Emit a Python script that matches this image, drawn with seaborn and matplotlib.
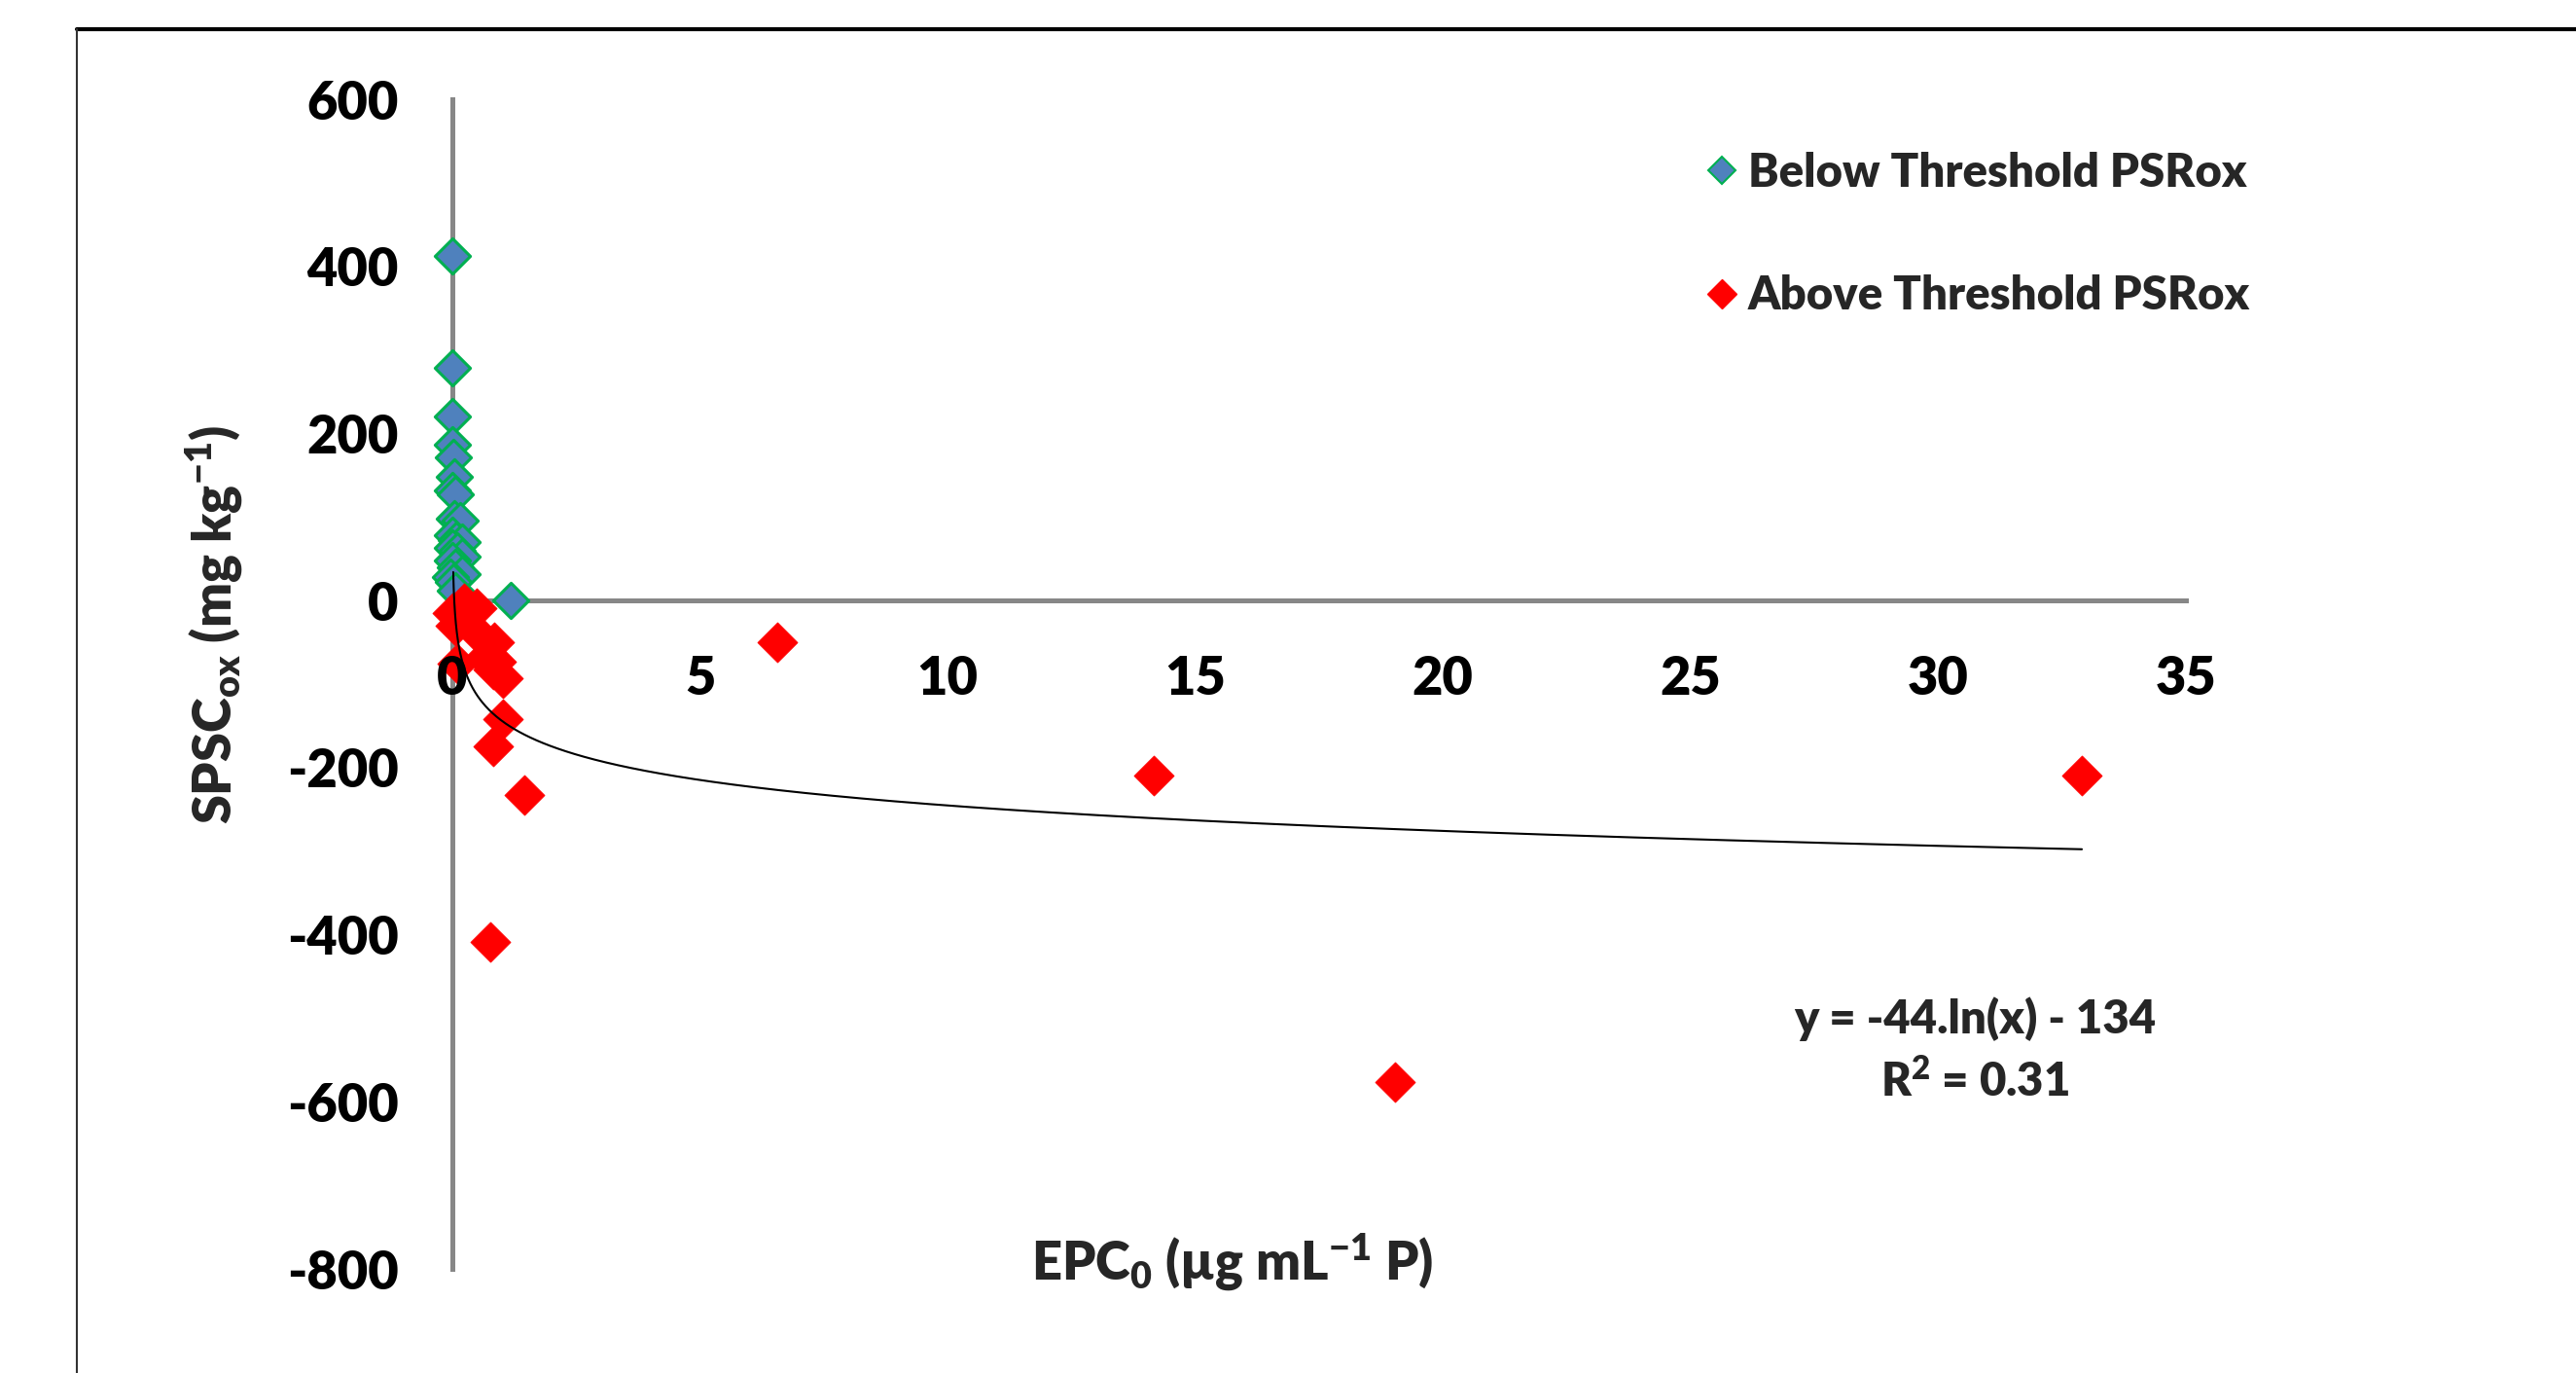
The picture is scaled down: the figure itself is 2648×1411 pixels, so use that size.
import numpy as np
import pandas as pd
import matplotlib
matplotlib.use("Agg")
import matplotlib.pyplot as plt
from matplotlib.lines import Line2D
import seaborn as sns

# ---------------- data ----------------
below_x = [0.0, 0.0, 0.0, 0.0, 0.02, 0.03, 0.0, 0.05, 0.04, 0.15, 0.0, 0.08, 0.2,
           0.0, 0.1, 0.2, 0.0, 0.05, 0.2, -0.03, 0.02, 0.05, 1.17]
below_y = [412, 278, 220, 187, 171, 148, 132, 127, 98, 96, 78, 72, 70,
           63, 60, 52, 48, 40, 32, 28, 22, 12, 0]

above_x = [0.24, 0.49, 0.0, 0.06, 0.59, 0.84, 0.65, 0.88, 0.1, 1.02, 0.82,
           1.02, 0.82, 1.45, 0.77, 6.56, 14.16, 19.04, 32.9]
above_y = [-3, -9, -15, -30, -44, -50, -68, -73, -76, -93, -83,
           -142, -175, -233, -409, -50, -210, -576, -210]

series_names = ["Below Threshold PSRox", "Above Threshold PSRox"]

x_ticks = [0, 5, 10, 15, 20, 25, 30, 35]
y_ticks = [-800, -600, -400, -200, 0, 200, 400, 600]

# trend line as drawn in the picture (logarithmic)
trend_a = -44.0
trend_b = -144.0
trend_x_start = 0.0175
equation_text = "y = -44.ln(x) - 134"
r2_text = "R$^2$ = 0.31"

x_label = "EPC$_0$ (µg mL$^{-1}$ P)"
y_label = "SPSC$_{ox}$ (mg kg$^{-1}$)"

# ---------------- styling ----------------
sns.set_theme(style="white")
FONT = "Lato"
WEIGHT = "heavy"
plt.rcParams["font.family"] = [FONT, "DejaVu Sans"]
plt.rcParams["font.weight"] = WEIGHT
plt.rcParams["axes.unicode_minus"] = False
plt.rcParams["mathtext.fontset"] = "custom"
plt.rcParams["mathtext.rm"] = "Lato:heavy"
plt.rcParams["mathtext.bf"] = "Lato:heavy"
plt.rcParams["mathtext.it"] = "Lato:heavy"
plt.rcParams["mathtext.default"] = "rm"

W, H = 2648, 1411
DPI = 100
fig = plt.figure(figsize=(W / DPI, H / DPI), dpi=DPI)
fig.patch.set_facecolor("white")

ax_l, ax_r, ax_t, ax_b = 465, 2247, 102, 1304
ax = fig.add_axes([ax_l / W, 1 - ax_b / H, (ax_r - ax_l) / W, (ax_b - ax_t) / H])
ax.set_facecolor("white")

df_below = pd.DataFrame({"x": below_x, "y": below_y, "group": series_names[0]})
df_above = pd.DataFrame({"x": above_x, "y": above_y, "group": series_names[1]})

sns.scatterplot(data=df_below, x="x", y="y", marker="D", s=340,
                color="#4F81BD", edgecolor="#00B050", linewidth=2.2,
                ax=ax, clip_on=False, zorder=3, legend=False)
sns.scatterplot(data=df_above, x="x", y="y", marker="D", s=440,
                color="#FF0000", edgecolor="#FF0000", linewidth=0.5,
                ax=ax, clip_on=False, zorder=4, legend=False)

# trend line
tx = np.geomspace(trend_x_start, max(above_x), 400)
ty = trend_a * np.log(tx) + trend_b
sns.lineplot(x=tx, y=ty, color="black", linewidth=1.5, ax=ax, zorder=5,
             sort=False, estimator=None)

ax.set_xlim(0, 35)
ax.set_ylim(-800, 600)
ax.set_xticks(x_ticks)
ax.set_xticklabels([str(v) for v in x_ticks])
ax.set_yticks(y_ticks)
ax.set_yticklabels([str(v) for v in y_ticks])

axis_grey = "#878787"
for side in ["top", "right"]:
    ax.spines[side].set_visible(False)
ax.spines["left"].set_position(("data", 0))
ax.spines["bottom"].set_position(("data", 0))
for side in ["left", "bottom"]:
    ax.spines[side].set_color(axis_grey)
    ax.spines[side].set_linewidth(3.6)
    ax.spines[side].set_zorder(1)

ax.tick_params(axis="both", which="major", direction="out", length=14, width=3.6,
               color=axis_grey, labelsize=39, labelcolor="black")
ax.tick_params(axis="y", pad=26)
ax.tick_params(axis="x", pad=26)
for lab in ax.get_xticklabels() + ax.get_yticklabels():
    lab.set_fontweight(WEIGHT)
ax.xaxis.set_zorder(6)
ax.set_xlabel("")
ax.set_ylabel("")
ax.grid(False)

# axis titles
fig.text(1267 / W, 1 - 1297 / H, x_label, ha="center", va="center",
         fontsize=39, fontweight=WEIGHT)
fig.text(220 / W, 1 - 642 / H, y_label, ha="center", va="center",
         fontsize=39, fontweight=WEIGHT, rotation=90)

# equation
fig.text(2030 / W, 1 - 1047 / H, equation_text, ha="center", va="center",
         fontsize=34, fontweight=WEIGHT)
fig.text(2030 / W, 1 - 1111 / H, r2_text, ha="center", va="center",
         fontsize=34, fontweight=WEIGHT)

# legend
handles = [
    Line2D([], [], linestyle="none", marker="D", markersize=14,
           markerfacecolor="#4F81BD", markeredgecolor="#00B050", markeredgewidth=1.5),
    Line2D([], [], linestyle="none", marker="D", markersize=15,
           markerfacecolor="#FF0000", markeredgecolor="#FF0000"),
]
leg = fig.legend(handles, series_names, loc="upper left",
                 bbox_to_anchor=(1733 / W, 1 - 132 / H), frameon=False,
                 prop={"family": FONT, "weight": WEIGHT, "size": 34},
                 handlelength=0.55, handletextpad=0.3, labelspacing=1.75,
                 borderpad=0)

# outer frame (chart area border)
fig.add_artist(Line2D([79 / W, 1.0], [1 - 30 / H, 1 - 30 / H],
                      transform=fig.transFigure, color="black", linewidth=3.0))
fig.add_artist(Line2D([79 / W, 79 / W], [1 - 30 / H, 0.0],
                      transform=fig.transFigure, color="#333333", linewidth=1.5))

fig.savefig("out.png", dpi=DPI, facecolor="white")
